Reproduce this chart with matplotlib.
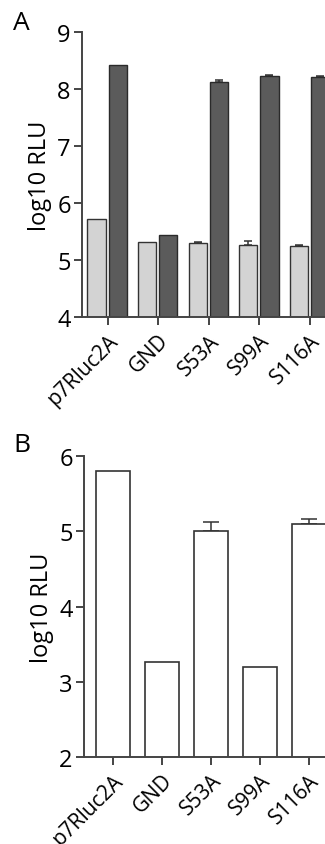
import numpy as np
import matplotlib.pyplot as plt

# data
constructs = ["p7Rluc2A", "GND", "S53A", "S99A", "S116A"]

a_light = [5.72, 5.32, 5.30, 5.27, 5.25]
a_light_err = [0.0, 0.0, 0.02, 0.06, 0.02]
a_dark = [8.43, 5.44, 8.12, 8.23, 8.22]
a_dark_err = [0.0, 0.0, 0.05, 0.02, 0.02]

b_vals = [5.80, 3.27, 5.00, 3.20, 5.10]
b_err = [0.0, 0.0, 0.12, 0.0, 0.06]

plt.rcParams['font.family'] = ['Open Sans', 'DejaVu Sans']
axis_col = "#444444"


def style_axis(ax, yticks):
    """common look for both panels"""
    for s in ["top", "right"]:
        ax.spines[s].set_visible(False)
    for s in ["left", "bottom"]:
        ax.spines[s].set_color(axis_col)
        ax.spines[s].set_linewidth(1.4)
    ax.set_yticks(yticks)
    ax.tick_params(axis="y", direction="out", length=6, width=1.4,
                   color=axis_col, labelsize=17, pad=2)
    ax.tick_params(axis="x", direction="out", length=6, width=1.4,
                   color=axis_col, labelsize=15, pad=3)
    ax.set_xticks(np.arange(len(constructs)))
    ax.set_xticklabels(constructs, rotation=45, ha="right",
                       rotation_mode="anchor")
    ax.set_ylabel("log10 RLU", fontsize=17, labelpad=4)


def upper_err(ax, xs, tops, errs, cap):
    """only the upper half of the error bar, and only where there is one"""
    for xi, t, e in zip(xs, tops, errs):
        if e > 0:
            ax.errorbar([xi], [t], yerr=[[0], [e]], fmt="none", ecolor="#333333",
                        elinewidth=1.1, capsize=cap, capthick=1.1, zorder=1)


fig = plt.figure(figsize=(3.25, 8.45), dpi=100)
x = np.arange(len(constructs))

# panel A
axA = fig.add_axes([0.252, 0.6233, 0.748, 0.3373])
w = 0.36
axA.bar(x - 0.22, a_light, w, color="#d3d3d3", edgecolor="#333333",
        linewidth=1.0, zorder=2)
axA.bar(x + 0.2, a_dark, w, color="#5b5b5b", edgecolor="#2a2a2a",
        linewidth=1.0, zorder=2)
upper_err(axA, x - 0.22, a_light, a_light_err, 3)
upper_err(axA, x + 0.2, a_dark, a_dark_err, 3)
axA.set_ylim(4, 9)
axA.set_xlim(-0.51, 4.3)
style_axis(axA, [4, 5, 6, 7, 8, 9])
fig.text(0.04, 0.987, "A", fontsize=19, va="top")

# panel B
axB = fig.add_axes([0.258, 0.1026, 0.742, 0.3569])
axB.bar(x, b_vals, 0.7, color="white", edgecolor="#333333",
        linewidth=1.2, zorder=2)
upper_err(axB, x, b_vals, b_err, 6)
axB.set_ylim(2, 6)
axB.set_xlim(-0.59, 4.33)
style_axis(axB, [2, 3, 4, 5, 6])
fig.text(0.04, 0.487, "B", fontsize=19, va="top")

fig.savefig("out.png", dpi=100)
